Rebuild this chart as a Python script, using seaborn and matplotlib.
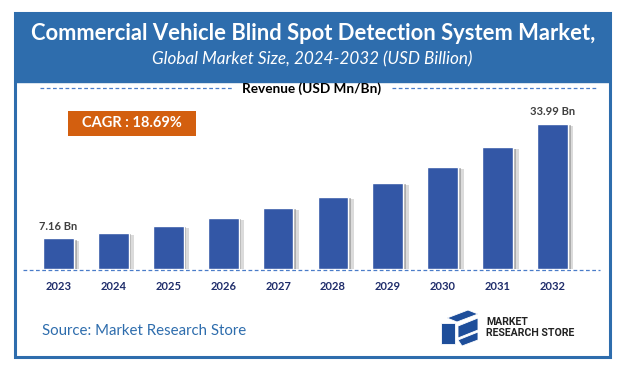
import numpy as np
import pandas as pd
import matplotlib
matplotlib.use('Agg')
import matplotlib.pyplot as plt
import matplotlib.patheffects as pe
from matplotlib.patches import Rectangle, Polygon
from matplotlib.lines import Line2D
import seaborn as sns

years = ['2023', '2024', '2025', '2026', '2027', '2028', '2029', '2030', '2031', '2032']
revenue = [7.16, 8.5, 10.1, 12.0, 14.3, 16.9, 20.2, 24.0, 28.5, 33.99]
first_label = '7.16 Bn'
last_label = '33.99 Bn'
title = 'Commercial Vehicle Blind Spot Detection System Market,'
subtitle = 'Global Market Size, 2024-2032 (USD Billion)'
cagr_text = 'CAGR : 18.69%'
legend_text = 'Revenue (USD Mn/Bn)'
source_text = 'Source: Market Research Store'

df = pd.DataFrame({'year': years, 'revenue': revenue})

sns.set_style('white')
plt.rcParams['font.family'] = ['Lato', 'DejaVu Sans']

W, H = 626, 375
fig = plt.figure(figsize=(6.26, 3.75), dpi=100)
fig.patch.set_facecolor('white')

def fx(x):
    return x / W

def fy(y):
    return 1 - y / H

frame_blue = '#2E6DAD'
# outer frame + header band
fig.patches.append(Rectangle((fx(15), fy(357)), fx(595), 344 / H, transform=fig.transFigure,
                             facecolor='none', edgecolor=frame_blue, lw=2.2))
fig.patches.append(Rectangle((fx(15), fy(82)), fx(595), 69 / H, transform=fig.transFigure,
                             facecolor=frame_blue, edgecolor=frame_blue, lw=1))
fig.text(fx(313), fy(34), title, color='white', fontsize=15.8, fontweight='bold',
         ha='center', va='center')
fig.text(fx(312), fy(59), subtitle, color='white', fontsize=12.3, fontstyle='italic',
         ha='center', va='center')

# legend-like header line
dash_blue = '#4A7CC8'
fig.lines.append(Line2D([fx(40), fx(232)], [fy(88), fy(88)], transform=fig.transFigure,
                        color=dash_blue, lw=0.9, ls=(0, (3, 2))))
fig.lines.append(Line2D([fx(392), fx(596)], [fy(88), fy(88)], transform=fig.transFigure,
                        color=dash_blue, lw=0.9, ls=(0, (3, 2))))
fig.text(fx(312), fy(89), legend_text, color='black', fontsize=9.8, fontweight='bold',
         ha='center', va='center')

# CAGR box
fig.patches.append(Rectangle((fx(68), fy(136)), fx(128), 25 / H, transform=fig.transFigure,
                             facecolor='#D35F0F', edgecolor='none'))
fig.text(fx(132), fy(123.5), cagr_text, color='white', fontsize=10.5, fontweight='bold',
         ha='center', va='center')

# bars
ax = fig.add_axes([fx(31), 1 - 269 / H, 549 / W, 170.8 / H])
sns.barplot(data=df, x='year', y='revenue', color='#3357A6', width=0.56, saturation=1, ax=ax)
for p in ax.patches:
    p.set_path_effects([pe.SimplePatchShadow(offset=(4, -1.5), shadow_rgbFace='#999999', alpha=0.35),
                        pe.SimplePatchShadow(offset=(2, -1), shadow_rgbFace='#666666', alpha=0.4),
                        pe.Normal()])
ax.set_xlim(-0.5, 9.5)
ax.set_ylim(0, 40)
ax.set_xlabel('')
ax.set_ylabel('')
ax.set_yticks([])
for s in ax.spines.values():
    s.set_visible(False)
ax.tick_params(axis='x', length=0, pad=9)
for t in ax.get_xticklabels():
    t.set_fontweight('bold')
    t.set_fontsize(8)
    t.set_color('#1F2D6B')
ax.patch.set_alpha(0)
ax.text(0, revenue[0] + 1.6, first_label, ha='center', va='bottom', fontsize=8,
        fontweight='bold', color='#404040')
ax.text(9, revenue[-1] + 1.6, last_label, ha='center', va='bottom', fontsize=8,
        fontweight='bold', color='#404040')

# dashed baseline
fig.lines.append(Line2D([fx(23), fx(600)], [fy(270), fy(270)], transform=fig.transFigure,
                        color=dash_blue, lw=0.9, ls=(0, (3, 2))))

# source
fig.text(fx(42), fy(331), source_text, color=frame_blue, fontsize=10.8, ha='left', va='center')

# logo
logo_c = '#1E4E9A'
shapes = [
    [(447, 318), (468, 310), (478, 314), (457, 322)],
    [(441, 323), (455, 323), (455, 344), (441, 344)],
    [(458, 326), (478, 318), (478, 330), (458, 338)],
    [(458, 340), (478, 332), (478, 340), (462, 346)],
]
for pts in shapes:
    fig.patches.append(Polygon([(fx(x), fy(y)) for x, y in pts], closed=True,
                               transform=fig.transFigure, facecolor=logo_c, edgecolor='white', lw=0.6))
fig.text(fx(486), fy(322), 'MARKET', color='#222222', fontsize=7.6, fontweight='bold',
         family='Roboto', ha='left', va='center')
fig.text(fx(486), fy(333), 'RESEARCH STORE', color='#222222', fontsize=7.6, fontweight='bold',
         family='Roboto', ha='left', va='center')

fig.savefig('out.png', dpi=100)
